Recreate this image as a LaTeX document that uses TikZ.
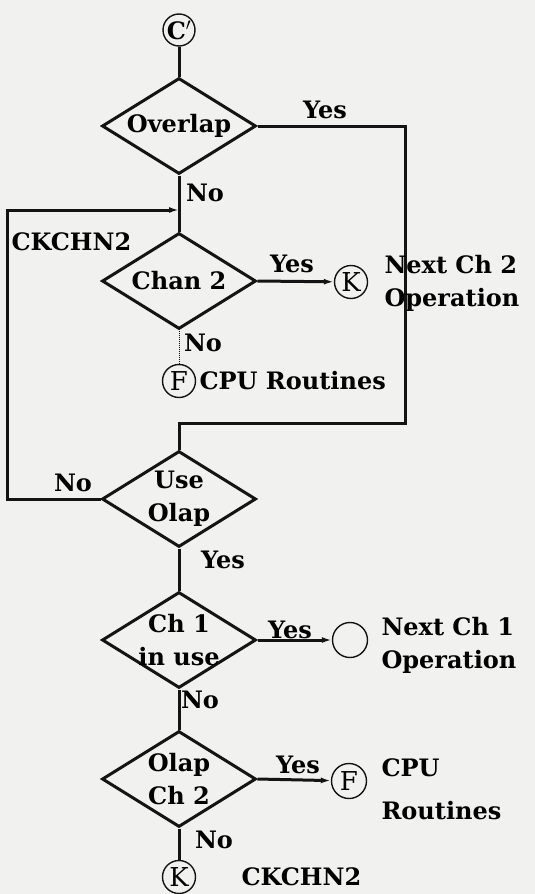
\documentclass[tikz,border=0pt]{standalone}
\usepackage{fontspec}
\setmainfont{DejaVu Serif}
\usetikzlibrary{arrows.meta,positioning,shapes.geometric}
\definecolor{Ink}{HTML}{141414}
\definecolor{Paper}{HTML}{F1F1EF}

\begin{document}
\begin{tikzpicture}[x=1pt,y=-1pt,
  font=\fontsize{24}{33}\selectfont\bfseries,
  test/.style={draw=Ink,diamond,line width=3pt,inner sep=0pt,shape aspect=1.6,
    minimum width=154pt,minimum height=96pt},
  tlabel/.style={align=center,inner sep=0pt},
  conn/.style={draw=Ink,circle,line width=1.4pt,inner sep=0pt,minimum size=33pt,
    font=\fontsize{26}{28}\selectfont\mdseries},
  flow/.style={-{Latex[length=10pt,width=6pt]}}]
\fill[Paper] (0,0) rectangle (535,894);
\useasboundingbox (0,0) rectangle (535,894);
% decisions
\node[test,label={[tlabel]center:Overlap}] (ovl) at (179,126) {};
\node[test,label={[tlabel]center:Chan 2}] (chan) at (179,281) {};
\node[test,label={[tlabel]center:Use\\Olap}] (use) at (179,499) {};
\node[test,label={[tlabel]center:Ch 1\\in use}] (ch1) at (179,640) {};
\node[test,label={[tlabel]center:Olap\\Ch 2}] (olp) at (179,779) {};
% connectors
\node[conn,minimum size=32pt,font=\fontsize{24}{26}\selectfont\bfseries] (cp) at (179,30) {C$'$};
\node[conn] (kA) at (351,282) {K};
\node[conn] (fA) at (179,381) {F};
\node[conn,minimum size=35pt] (nx1) at (350,640) {};
\node[conn,minimum size=35pt] (fB) at (349,781) {F};
\node[conn] (kB) at (179,877) {K};
\coordinate (jn) at (ovl.south |- 0,210);
\coordinate (loop) at (7,210);
\coordinate (bend) at (405,423);
% flow lines
\begin{scope}[draw=Ink,line width=3pt]
\draw (cp) -- (ovl.north);
\draw (ovl.south) -- (chan.north);
\draw (ovl.east) -| (bend) -| (use.north);
\draw[flow] (use.west) -| (loop) -- (jn);
\draw[flow] (chan.east) -- (kA);
\draw[line width=1pt,densely dotted] (chan.south) -- (fA);
\draw (use.south) -- (ch1.north);
\draw[flow] (ch1.east) -- (nx1);
\draw (ch1.south) -- (olp.north);
\draw[flow] (olp.east) -- (fB);
\draw (olp.south) -- (kB);
\end{scope}
% branch labels
\foreach \n/\x/\y/\t in {yA/325/110/Yes, nA/205/193/No, yB/292/264/Yes,
  nB/203/343/No, nC/73/483/No, yC/223/560/Yes, yD/290/630/Yes,
  nD/200/700/No, yE/298/765/Yes, nE/214/840/No}
  \node (\n) at (\x,\y) {\t};
\node[anchor=west] (ckA) at (8,242) {CKCHN2};
\node[anchor=west,align=left] (nxt2) at (381,283) {Next Ch 2\\Operation};
\node[anchor=west] (cpuA) at (196,381) {CPU Routines};
\node[anchor=west,align=left] (nxt1) at (378,645) {Next Ch 1\\Operation};
\node[anchor=west,align=left,font=\fontsize{24}{43}\selectfont\bfseries] (cpuB) at (378,789) {CPU\\Routines};
\node[anchor=west] (ckB) at (238,877) {CKCHN2};
\end{tikzpicture}
\end{document}
